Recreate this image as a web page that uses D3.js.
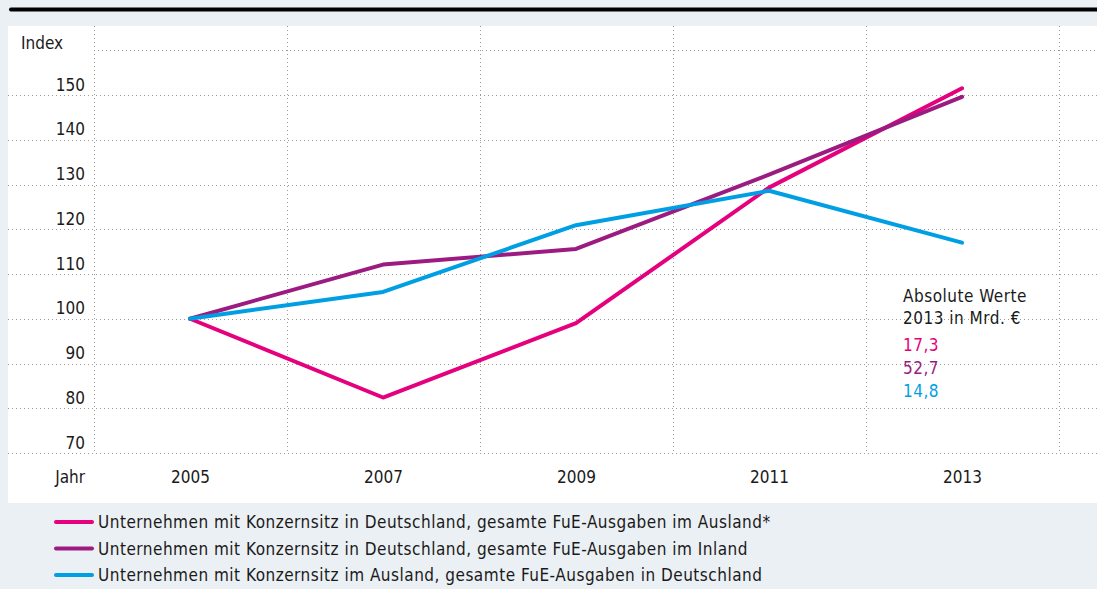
<!DOCTYPE html>
<html><head><meta charset="utf-8">
<script src="https://cdn.jsdelivr.net/npm/d3@7"></script>
<style>
html,body{margin:0;padding:0;background:#ebf0f4;}
svg{display:block;}
text{font-family:"DejaVu Sans Condensed","DejaVu Sans",sans-serif;fill:#1a1a1a;}
</style></head>
<body>
<svg id="chart" width="1097" height="589"></svg>
<script>
const years = [2005, 2007, 2009, 2011, 2013];
const seriesNames = [
  "Unternehmen mit Konzernsitz in Deutschland, gesamte FuE-Ausgaben im Ausland*",
  "Unternehmen mit Konzernsitz in Deutschland, gesamte FuE-Ausgaben im Inland",
  "Unternehmen mit Konzernsitz im Ausland, gesamte FuE-Ausgaben in Deutschland"
];
const ausland = [100, 82.4, 99.0, 129.3, 151.5];
const inland = [100, 112.1, 115.6, 132.2, 149.6];
const auslandKonzern = [100, 106.0, 120.9, 128.6, 117.0];
const absoluteValues = ["17,3", "52,7", "14,8"];
const yTicks = [70, 80, 90, 100, 110, 120, 130, 140, 150];
const yGrid = [70, 80, 90, 100, 110, 120, 130, 140, 150, 160];
const xGrid = [2004, 2006, 2008, 2010, 2012, 2014];
const colors = ["#e5007d", "#9c1b80", "#009fe3"];
const annotationTitle = ["Absolute Werte", "2013 in Mrd. €"];

const series = [ausland, inland, auslandKonzern];

const svg = d3.select("#chart");

// top black rule
svg.append("line").attr("x1", 11).attr("x2", 1097).attr("y1", 9.5).attr("y2", 9.5)
  .attr("stroke", "#000").attr("stroke-width", 4).attr("stroke-linecap", "round");

// white panel
svg.append("rect").attr("x", 8).attr("y", 26).attr("width", 1089).attr("height", 477).attr("fill", "#fff");

const x = d3.scaleLinear().domain([2004, 2014]).range([93.5, 1058.5]);
const y = d3.scaleLinear().domain([70, 160]).range([453, 50.25]);

// grid
const grid = svg.append("g").attr("stroke", "#9a9a9a").attr("stroke-width", 1).attr("stroke-dasharray", "1,3");
grid.selectAll("line.h").data(yGrid).join("line").attr("class", "h")
  .attr("x1", d => d === 160 ? 94 : 8).attr("x2", 1097)
  .attr("y1", d => Math.round(y(d)) + 0.5).attr("y2", d => Math.round(y(d)) + 0.5);
grid.selectAll("line.v").data(xGrid).join("line").attr("class", "v")
  .attr("x1", d => Math.round(x(d)) + 0.5).attr("x2", d => Math.round(x(d)) + 0.5)
  .attr("y1", 26).attr("y2", 453);

// y axis labels
const yAxis = d3.axisLeft(y).tickValues(yTicks).tickSize(0).tickPadding(0);
const ya = svg.append("g").attr("transform", "translate(85,0)").call(yAxis);
ya.select(".domain").remove();
ya.selectAll("text").attr("dy", null).attr("y", -5)
  .style("font-family", '"DejaVu Sans Condensed",sans-serif').style("font-size", "17px").style("fill", "#1a1a1a");

svg.append("text").attr("x", 21).attr("y", 49).style("font-size", "17px").text("Index");

// x axis labels
const xAxis = d3.axisBottom(x).tickValues(years).tickFormat(d3.format("d")).tickSize(0).tickPadding(0);
const xa = svg.append("g").attr("transform", "translate(0,483)").call(xAxis);
xa.select(".domain").remove();
xa.selectAll("text").attr("dy", null).attr("y", 0)
  .style("font-family", '"DejaVu Sans Condensed",sans-serif').style("font-size", "17px").style("fill", "#1a1a1a");
svg.append("text").attr("x", 85).attr("y", 483).attr("text-anchor", "end").style("font-size", "17px").text("Jahr");

// lines
const line = d3.line().x((d, i) => x(years[i])).y(d => y(d));
svg.append("g").selectAll("path").data(series).join("path")
  .attr("d", d => line(d)).attr("fill", "none")
  .attr("stroke", (d, i) => colors[i]).attr("stroke-width", 4)
  .attr("stroke-linejoin", "round").attr("stroke-linecap", "round");

// annotation
const ann = svg.append("g");
ann.selectAll("text.t").data(annotationTitle).join("text").attr("class", "t")
  .attr("x", 903).attr("y", (d, i) => 302 + i * 21.5).style("font-size", "17px").style("letter-spacing", "0.5px").text(d => d);
ann.selectAll("text.v").data(absoluteValues).join("text").attr("class", "v")
  .attr("x", 903).attr("y", (d, i) => 351 + i * 23).style("font-size", "17px").style("letter-spacing", "0.5px")
  .style("fill", (d, i) => colors[i]).text(d => d);

// legend
const lg = svg.append("g");
const rows = lg.selectAll("g").data(seriesNames).join("g")
  .attr("transform", (d, i) => `translate(0,${522 + i * 26.5})`);
rows.append("line").attr("x1", 56).attr("x2", 92).attr("y1", 0).attr("y2", 0)
  .attr("stroke", (d, i) => colors[i]).attr("stroke-width", 4).attr("stroke-linecap", "round");
rows.append("text").attr("x", 98).attr("y", 6).style("font-size", "17px").style("letter-spacing", "0.5px").text(d => d);
</script>
</body></html>
